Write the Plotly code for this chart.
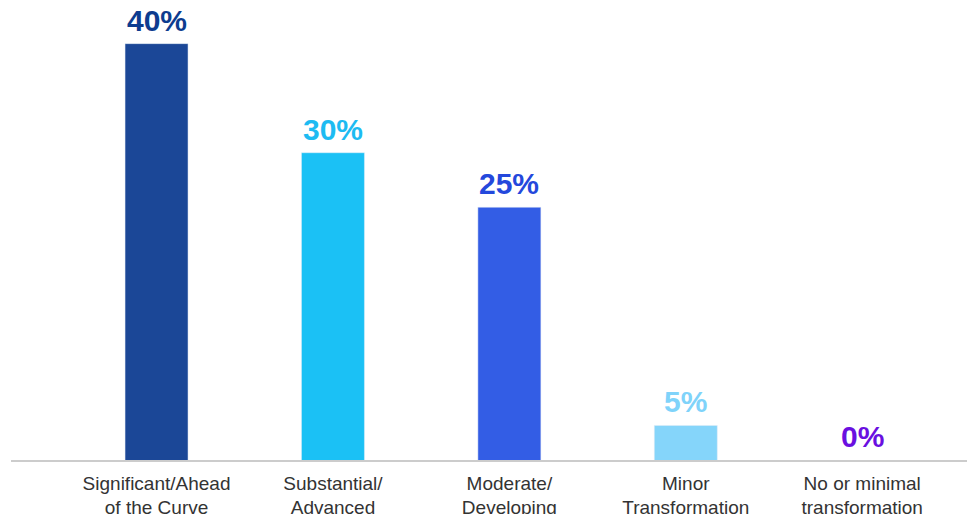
import plotly.graph_objects as go

categories = ["Significant/Ahead<br>of the Curve", "Substantial/<br>Advanced",
              "Moderate/<br>Developing", "Minor<br>Transformation",
              "No or minimal<br>transformation"]
values = [40, 30, 25, 5, 0]
labels = ["40%", "30%", "25%", "5%", "0%"]

bar_colors = ["#1B4797", "#1BC1F5", "#335DE5", "#85D5FA", "#6A10E0"]
text_colors = ["#0D3C8F", "#1DBBF2", "#2448DC", "#7FD3FA", "#6A0FE0"]

Y_MIN, Y_MAX = 1.83, 44.0

fig = go.Figure()
fig.add_trace(go.Bar(x=categories, y=values, marker_color=bar_colors,
                     width=0.357, hoverinfo="skip"))

for c, v, t, col in zip(categories, values, labels, text_colors):
    fig.add_annotation(x=c, y=max(v, Y_MIN), text=t, showarrow=False,
                       yanchor="bottom", yshift=5,
                       font=dict(family="Liberation Sans, Arial", size=30, color=col,
                                 weight="bold"))

fig.update_layout(
    width=974, height=514,
    margin=dict(l=11, r=7, t=0, b=54),
    plot_bgcolor="white", paper_bgcolor="white",
    showlegend=False,
    xaxis=dict(range=[-0.825, 4.594], showline=True, linecolor="#cccccc", linewidth=1.5,
               showgrid=False, ticks="", ticklabelstandoff=5, automargin=False,
               tickfont=dict(family="Liberation Sans, Arial", size=19, color="#333333")),
    yaxis=dict(range=[Y_MIN, Y_MAX], visible=False, showgrid=False, automargin=False),
)
fig.write_html("out.html", config={"displayModeBar": False},
               post_script="document.body.style.margin='0';document.body.style.overflow='hidden';")
